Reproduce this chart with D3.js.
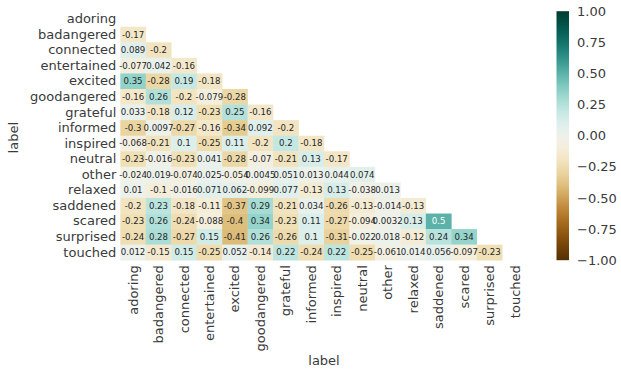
<!DOCTYPE html>
<html>
<head>
<meta charset="utf-8">
<script src="https://cdn.jsdelivr.net/npm/d3@7"></script>
<style>
  html, body { margin: 0; padding: 0; background: #fff; }
  svg { display: block; font-family: "DejaVu Sans", sans-serif; }
</style>
</head>
<body>
<svg id="chart" width="621" height="371"></svg>
<script>
// Emotion labels (rows and columns of the correlation matrix)
const labels = ["adoring", "badangered", "connected", "entertained", "excited",
  "goodangered", "grateful", "informed", "inspired", "neutral", "other",
  "relaxed", "saddened", "scared", "surprised", "touched"];

// Lower triangle of the correlation matrix: row i holds columns 0..i-1
const lowerTriangle = [
  [],
  [-0.17],
  [0.089, -0.2],
  [-0.077, 0.042, -0.16],
  [0.35, -0.28, 0.19, -0.18],
  [-0.16, 0.26, -0.2, -0.079, -0.28],
  [0.033, -0.18, 0.12, -0.23, 0.25, -0.16],
  [-0.3, 0.0097, -0.27, -0.16, -0.34, 0.092, -0.2],
  [-0.068, -0.21, 0.1, -0.25, 0.11, -0.2, 0.2, -0.18],
  [-0.23, -0.016, -0.23, 0.041, -0.28, -0.07, -0.21, 0.13, -0.17],
  [-0.024, 0.019, -0.074, 0.025, -0.054, 0.0045, 0.051, 0.013, 0.044, 0.074],
  [0.01, -0.1, -0.016, 0.071, 0.062, -0.099, 0.077, -0.13, 0.13, -0.038, 0.013],
  [-0.2, 0.23, -0.18, -0.11, -0.37, 0.29, -0.21, 0.034, -0.26, -0.13, -0.014, -0.13],
  [-0.23, 0.26, -0.24, -0.088, -0.4, 0.34, -0.23, 0.11, -0.27, -0.094, 0.0032, 0.13, 0.5],
  [-0.24, 0.28, -0.27, 0.15, -0.41, 0.26, -0.26, 0.1, -0.31, -0.022, 0.018, -0.12, 0.24, 0.34],
  [0.012, -0.15, 0.15, -0.25, 0.052, -0.14, 0.22, -0.24, 0.22, -0.25, -0.061, 0.014, 0.056, -0.097, -0.23]
];

// Colour bar tick values
const colorbarTicks = [1.0, 0.75, 0.5, 0.25, 0.0, -0.25, -0.5, -0.75, -1.0];

const svg = d3.select("#chart");
const textColor = "#3a3a3a";
const labelSize = "13px";

const grid = { left: 120.3, top: 11.2, right: 527.7, bottom: 260.2 };

const x = d3.scaleBand().domain(labels).range([grid.left, grid.right]).padding(0);
const y = d3.scaleBand().domain(labels).range([grid.top, grid.bottom]).padding(0);
const color = d3.scaleSequential(v => d3.interpolateBrBG(v)).domain([-1, 1]);

const fmt = d3.formatLocale({ decimal: ".", thousands: ",", grouping: [3], currency: ["", ""], minus: "-" })
  .format(".2~g");

// Flatten the triangle into cells
const cells = [];
lowerTriangle.forEach((row, i) => {
  row.forEach((v, j) => cells.push({ row: labels[i], col: labels[j], value: v }));
});

// Heatmap cells
svg.append("g").selectAll("rect").data(cells).join("rect")
  .attr("x", d => x(d.col))
  .attr("y", d => y(d.row))
  .attr("width", x.bandwidth() + 0.3)
  .attr("height", y.bandwidth() + 0.3)
  .attr("fill", d => color(d.value));

// Annotations: dark text on light cells, white text on dark ones
function luminance(c) {
  const rgb = d3.rgb(c);
  const ch = [rgb.r, rgb.g, rgb.b].map(u => {
    u /= 255;
    return u <= 0.03928 ? u / 12.92 : Math.pow((u + 0.055) / 1.055, 2.4);
  });
  return 0.2126 * ch[0] + 0.7152 * ch[1] + 0.0722 * ch[2];
}

svg.append("g").selectAll("text").data(cells).join("text")
  .attr("x", d => x(d.col) + x.bandwidth() / 2)
  .attr("y", d => y(d.row) + y.bandwidth() / 2)
  .attr("text-anchor", "middle")
  .attr("dominant-baseline", "central")
  .attr("font-size", "8.6px")
  .attr("fill", d => luminance(color(d.value)) > 0.408 ? "#262626" : "#ffffff")
  .text(d => fmt(d.value));

// Row labels
const yAxis = svg.append("g")
  .attr("transform", `translate(${grid.left},0)`)
  .call(d3.axisLeft(y).tickSize(0).tickPadding(4));
yAxis.select(".domain").remove();
yAxis.selectAll("text")
  .attr("font-size", labelSize)
  .attr("fill", textColor)
  .attr("font-family", "DejaVu Sans, sans-serif");

// Column labels, rotated
const xAxis = svg.append("g")
  .attr("transform", `translate(0,${grid.bottom})`)
  .call(d3.axisBottom(x).tickSize(0).tickPadding(0));
xAxis.select(".domain").remove();
xAxis.selectAll("text")
  .attr("font-size", labelSize)
  .attr("fill", textColor)
  .attr("font-family", "DejaVu Sans, sans-serif")
  .attr("transform", "rotate(-90)")
  .attr("text-anchor", "end")
  .attr("dy", "0.35em")
  .attr("x", -5)
  .attr("y", 0);

// Axis titles
svg.append("text")
  .attr("x", (grid.left + grid.right) / 2)
  .attr("y", 365)
  .attr("text-anchor", "middle")
  .attr("font-size", labelSize)
  .attr("fill", textColor)
  .text("label");

svg.append("text")
  .attr("transform", `translate(18,${(grid.top + grid.bottom) / 2 + 2}) rotate(-90)`)
  .attr("text-anchor", "middle")
  .attr("font-size", labelSize)
  .attr("fill", textColor)
  .text("label");

// Colour bar
const cb = { x: 556.5, width: 12.5 };
const cbScale = d3.scaleLinear().domain([-1, 1]).range([grid.bottom, grid.top]);
const defs = svg.append("defs");
const grad = defs.append("linearGradient")
  .attr("id", "cbgrad").attr("x1", 0).attr("y1", 1).attr("x2", 0).attr("y2", 0);
d3.range(0, 1.0001, 0.05).forEach(t => {
  grad.append("stop").attr("offset", t).attr("stop-color", color(-1 + 2 * t));
});
svg.append("rect")
  .attr("x", cb.x)
  .attr("y", cbScale(1))
  .attr("width", cb.width)
  .attr("height", cbScale(-1) - cbScale(1))
  .attr("fill", "url(#cbgrad)");

const cbAxis = svg.append("g")
  .attr("transform", `translate(${cb.x + cb.width},0)`)
  .call(d3.axisRight(cbScale).tickValues(colorbarTicks).tickSize(0).tickPadding(8)
    .tickFormat(d3.format(".2f")));
cbAxis.select(".domain").remove();
cbAxis.selectAll("text")
  .attr("font-size", labelSize)
  .attr("fill", textColor)
  .attr("font-family", "DejaVu Sans, sans-serif");
</script>
</body>
</html>
